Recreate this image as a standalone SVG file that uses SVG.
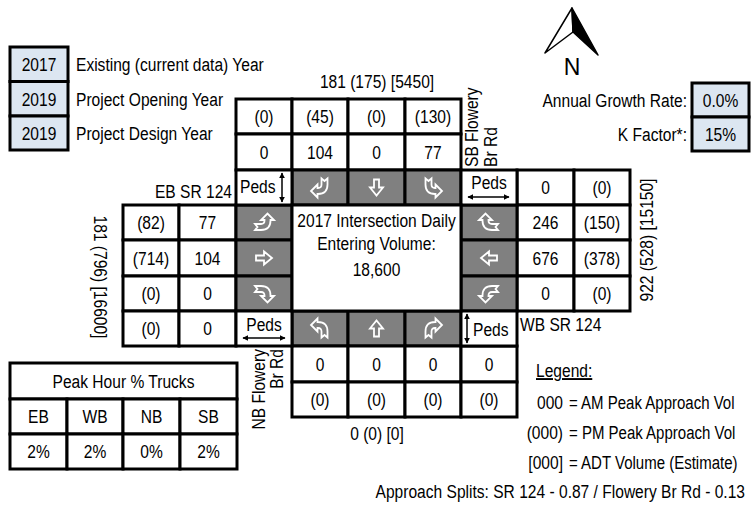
<svg xmlns="http://www.w3.org/2000/svg" width="755" height="510" viewBox="0 0 755 510">
<style>
text{font-family:"Liberation Sans",Arial,sans-serif;font-size:19px;fill:#000}
.c{text-anchor:middle}
.e{text-anchor:end}
.w{fill:#fff;stroke:#000;stroke-width:3}
.b{fill:#dce6f1;stroke:#000;stroke-width:3}
.g{fill:#808080;stroke:#000;stroke-width:3}
.ar{fill:none;stroke:#fff;stroke-width:1.8;stroke-linejoin:miter}
.pa{stroke:#000;stroke-width:1.5;fill:none}
</style>
<defs>
<marker id="ah" viewBox="0 0 10 10" refX="9" refY="5" markerWidth="6" markerHeight="6" orient="auto-start-reverse" markerUnits="userSpaceOnUse">
<path d="M0,0 L10,5 L0,10 Z" fill="#000"/>
</marker>
<path id="thru" d="M-8,-2.5 H0 V-6.5 L8,0 L0,6.5 V2.5 H-8 Z"/>
<path id="turn" d="M-9,1.5 H-3 Q0.5,1.5 0.5,-2 V-2.5 H-3 L3.5,-9 L10,-2.5 H6.5 V-2 Q6.5,7.5 -3,7.5 H-9 L-6.5,4.5 Z"/>
</defs>
<rect width="755" height="510" fill="#fff"/>

<g id="year-boxes">
<rect class="b" x="10" y="47" width="58" height="34.5"/>
<rect class="b" x="10" y="81.5" width="58" height="34.5"/>
<rect class="b" x="10" y="116" width="58" height="34"/>
<text class="c" transform="translate(39,71) scale(.82,1)">2017</text>
<text class="c" transform="translate(39,106) scale(.82,1)">2019</text>
<text class="c" transform="translate(39,140) scale(.82,1)">2019</text>
<text transform="translate(76,71) scale(.82,1)">Existing (current data) Year</text>
<text transform="translate(76,106) scale(.82,1)">Project Opening Year</text>
<text transform="translate(76,140) scale(.82,1)">Project Design Year</text>
</g>

<g id="north-arrow">
<polygon points="572,8 545,53 573,32" fill="#fff" stroke="#000" stroke-width="1.5" stroke-linejoin="round"/>
<polygon points="572,8 573,32 598,55" fill="#000" stroke="#000" stroke-width="1.5" stroke-linejoin="round"/>
<text class="c" x="572" y="75" style="font-size:23px">N</text>
</g>

<g id="factors">
<rect class="b" x="692" y="83" width="57" height="34"/>
<rect class="b" x="692" y="117" width="57" height="34"/>
<text class="e" transform="translate(687,107) scale(.82,1)">Annual Growth Rate:</text>
<text class="e" transform="translate(687,141) scale(.82,1)">K Factor*:</text>
<text class="c" transform="translate(720.5,107) scale(.82,1)">0.0%</text>
<text class="c" transform="translate(720.5,141) scale(.82,1)">15%</text>
</g>

<g id="sb-approach">
<rect class="w" x="236" y="99" width="56" height="35"/>
<rect class="w" x="292" y="99" width="56" height="35"/>
<rect class="w" x="348" y="99" width="57" height="35"/>
<rect class="w" x="405" y="99" width="56" height="35"/>
<rect class="w" x="236" y="134" width="56" height="36"/>
<rect class="w" x="292" y="134" width="56" height="36"/>
<rect class="w" x="348" y="134" width="57" height="36"/>
<rect class="w" x="405" y="134" width="56" height="36"/>
<text class="c" transform="translate(264,123) scale(.82,1)">(0)</text>
<text class="c" transform="translate(320,123) scale(.82,1)">(45)</text>
<text class="c" transform="translate(376.5,123) scale(.82,1)">(0)</text>
<text class="c" transform="translate(433,123) scale(.82,1)">(130)</text>
<text class="c" transform="translate(264,159) scale(.82,1)">0</text>
<text class="c" transform="translate(320,159) scale(.82,1)">104</text>
<text class="c" transform="translate(376.5,159) scale(.82,1)">0</text>
<text class="c" transform="translate(433,159) scale(.82,1)">77</text>
<rect class="g" x="292" y="170" width="56" height="35"/>
<rect class="g" x="348" y="170" width="57" height="35"/>
<rect class="g" x="405" y="170" width="56" height="35"/>
<use href="#turn" class="ar" transform="translate(320,187.5) rotate(90) scale(1,-1)"/>
<use href="#thru" class="ar" transform="translate(376.5,187.5) rotate(90)"/>
<use href="#turn" class="ar" transform="translate(433,187.5) rotate(90)"/>
<text class="c" transform="translate(377,88) scale(.82,1)">181 (175) [5450]</text>
<text transform="translate(478,167) rotate(-90) scale(.82,1)">SB Flowery</text>
<text transform="translate(497,167) rotate(-90) scale(.82,1)">Br Rd</text>
</g>

<g id="eb-approach">
<rect class="w" x="123" y="205" width="56" height="35"/>
<rect class="w" x="179" y="205" width="57" height="35"/>
<rect class="w" x="123" y="240" width="56" height="36"/>
<rect class="w" x="179" y="240" width="57" height="36"/>
<rect class="w" x="123" y="276" width="56" height="35"/>
<rect class="w" x="179" y="276" width="57" height="35"/>
<rect class="w" x="123" y="311" width="56" height="35"/>
<rect class="w" x="179" y="311" width="57" height="35"/>
<text class="c" transform="translate(151,229) scale(.82,1)">(82)</text>
<text class="c" transform="translate(207.5,229) scale(.82,1)">77</text>
<text class="c" transform="translate(151,265) scale(.82,1)">(714)</text>
<text class="c" transform="translate(207.5,265) scale(.82,1)">104</text>
<text class="c" transform="translate(151,300) scale(.82,1)">(0)</text>
<text class="c" transform="translate(207.5,300) scale(.82,1)">0</text>
<text class="c" transform="translate(151,335) scale(.82,1)">(0)</text>
<text class="c" transform="translate(207.5,335) scale(.82,1)">0</text>
<rect class="g" x="236" y="205" width="56" height="35"/>
<rect class="g" x="236" y="240" width="56" height="36"/>
<rect class="g" x="236" y="276" width="56" height="35"/>
<use href="#turn" class="ar" transform="translate(264,222.5)"/>
<use href="#thru" class="ar" transform="translate(264,258)"/>
<use href="#turn" class="ar" transform="translate(264,293.5) scale(1,-1)"/>
<text class="e" transform="translate(232,198) scale(.82,1)">EB SR 124</text>
<text class="c" transform="translate(94,277) rotate(90) scale(.82,1)">181 (796) [16600]</text>
</g>

<g id="wb-approach">
<rect class="w" x="517" y="170" width="57" height="35"/>
<rect class="w" x="574" y="170" width="56" height="35"/>
<rect class="w" x="517" y="205" width="57" height="35"/>
<rect class="w" x="574" y="205" width="56" height="35"/>
<rect class="w" x="517" y="240" width="57" height="36"/>
<rect class="w" x="574" y="240" width="56" height="36"/>
<rect class="w" x="517" y="276" width="57" height="35"/>
<rect class="w" x="574" y="276" width="56" height="35"/>
<text class="c" transform="translate(545.5,194) scale(.82,1)">0</text>
<text class="c" transform="translate(602,194) scale(.82,1)">(0)</text>
<text class="c" transform="translate(545.5,229) scale(.82,1)">246</text>
<text class="c" transform="translate(602,229) scale(.82,1)">(150)</text>
<text class="c" transform="translate(545.5,265) scale(.82,1)">676</text>
<text class="c" transform="translate(602,265) scale(.82,1)">(378)</text>
<text class="c" transform="translate(545.5,300) scale(.82,1)">0</text>
<text class="c" transform="translate(602,300) scale(.82,1)">(0)</text>
<rect class="g" x="461" y="205" width="56" height="35"/>
<rect class="g" x="461" y="240" width="56" height="36"/>
<rect class="g" x="461" y="276" width="56" height="35"/>
<use href="#turn" class="ar" transform="translate(489,222.5) scale(-1,1)"/>
<use href="#thru" class="ar" transform="translate(489,258) rotate(180)"/>
<use href="#turn" class="ar" transform="translate(489,293.5) scale(-1,-1)"/>
<text transform="translate(520,331) scale(.82,1)">WB SR 124</text>
<text class="c" transform="translate(653,240) rotate(-90) scale(.82,1)">922 (528) [15150]</text>
</g>

<g id="nb-approach">
<rect class="g" x="292" y="311" width="56" height="35"/>
<rect class="g" x="348" y="311" width="57" height="35"/>
<rect class="g" x="405" y="311" width="56" height="35"/>
<use href="#turn" class="ar" transform="translate(320,328.5) rotate(-90)"/>
<use href="#thru" class="ar" transform="translate(376.5,328.5) rotate(-90)"/>
<use href="#turn" class="ar" transform="translate(433,328.5) rotate(-90) scale(1,-1)"/>
<rect class="w" x="292" y="346" width="56" height="36"/>
<rect class="w" x="348" y="346" width="57" height="36"/>
<rect class="w" x="405" y="346" width="56" height="36"/>
<rect class="w" x="461" y="346" width="56" height="36"/>
<rect class="w" x="292" y="382" width="56" height="35"/>
<rect class="w" x="348" y="382" width="57" height="35"/>
<rect class="w" x="405" y="382" width="56" height="35"/>
<rect class="w" x="461" y="382" width="56" height="35"/>
<text class="c" transform="translate(320,371) scale(.82,1)">0</text>
<text class="c" transform="translate(376.5,371) scale(.82,1)">0</text>
<text class="c" transform="translate(433,371) scale(.82,1)">0</text>
<text class="c" transform="translate(489,371) scale(.82,1)">0</text>
<text class="c" transform="translate(320,406) scale(.82,1)">(0)</text>
<text class="c" transform="translate(376.5,406) scale(.82,1)">(0)</text>
<text class="c" transform="translate(433,406) scale(.82,1)">(0)</text>
<text class="c" transform="translate(489,406) scale(.82,1)">(0)</text>
<text class="c" transform="translate(377,440) scale(.82,1)">0 (0) [0]</text>
<text class="e" transform="translate(265,349) rotate(-90) scale(.82,1)">NB Flowery</text>
<text class="e" transform="translate(283,349) rotate(-90) scale(.82,1)">Br Rd</text>
</g>

<g id="peds">
<rect class="w" x="236" y="170" width="56" height="35"/>
<rect class="w" x="461" y="170" width="56" height="35"/>
<rect class="w" x="236" y="311" width="56" height="35"/>
<rect class="w" x="461" y="311" width="56" height="35"/>
<text transform="translate(240,193) scale(.82,1)">Peds</text>
<text class="c" transform="translate(489,189) scale(.82,1)">Peds</text>
<text class="c" transform="translate(264,331) scale(.82,1)">Peds</text>
<text transform="translate(473,336) scale(.82,1)">Peds</text>
</g>

<g id="center">
<rect class="w" x="292" y="205" width="169" height="106"/>
<text class="c" transform="translate(376.5,227) scale(.82,1)">2017 Intersection Daily</text>
<text class="c" transform="translate(376.5,250) scale(.82,1)">Entering Volume:</text>
<text class="c" transform="translate(376.5,276) scale(.82,1)">18,600</text>
</g>

<g id="connectors">
<line class="pa" x1="282" y1="173" x2="282" y2="202" marker-start="url(#ah)" marker-end="url(#ah)"/>
<line class="pa" x1="468" y1="197" x2="509" y2="197" marker-start="url(#ah)" marker-end="url(#ah)"/>
<line class="pa" x1="243" y1="338" x2="285" y2="338" marker-start="url(#ah)" marker-end="url(#ah)"/>
<line class="pa" x1="467" y1="314" x2="467" y2="343" marker-start="url(#ah)" marker-end="url(#ah)"/>
</g>

<g id="trucks">
<rect class="w" x="10" y="363" width="227" height="36"/>
<rect class="w" x="10" y="399" width="57" height="35"/>
<rect class="w" x="67" y="399" width="56" height="35"/>
<rect class="w" x="123" y="399" width="57" height="35"/>
<rect class="w" x="180" y="399" width="57" height="35"/>
<rect class="w" x="10" y="434" width="57" height="35"/>
<rect class="w" x="67" y="434" width="56" height="35"/>
<rect class="w" x="123" y="434" width="57" height="35"/>
<rect class="w" x="180" y="434" width="57" height="35"/>
<text class="c" transform="translate(123.5,388) scale(.82,1)">Peak Hour % Trucks</text>
<text class="c" transform="translate(38.5,423) scale(.82,1)">EB</text>
<text class="c" transform="translate(95,423) scale(.82,1)">WB</text>
<text class="c" transform="translate(151.5,423) scale(.82,1)">NB</text>
<text class="c" transform="translate(208.5,423) scale(.82,1)">SB</text>
<text class="c" transform="translate(38.5,458) scale(.82,1)">2%</text>
<text class="c" transform="translate(95,458) scale(.82,1)">2%</text>
<text class="c" transform="translate(151.5,458) scale(.82,1)">0%</text>
<text class="c" transform="translate(208.5,458) scale(.82,1)">2%</text>
</g>

<g id="legend">
<text transform="translate(536,377) scale(.82,1)" text-decoration="underline">Legend:</text>
<text class="e" transform="translate(563,409) scale(.82,1)">000</text>
<text transform="translate(569,409) scale(.79,1)">= AM Peak Approach Vol</text>
<text class="e" transform="translate(563,439) scale(.82,1)">(000)</text>
<text transform="translate(569,439) scale(.79,1)">= PM Peak Approach Vol</text>
<text class="e" transform="translate(563,469) scale(.82,1)">[000]</text>
<text transform="translate(569,469) scale(.79,1)">= ADT Volume (Estimate)</text>
<text class="e" transform="translate(745,498) scale(.82,1)">Approach Splits: SR 124 - 0.87 / Flowery Br Rd - 0.13</text>
</g>
</svg>
